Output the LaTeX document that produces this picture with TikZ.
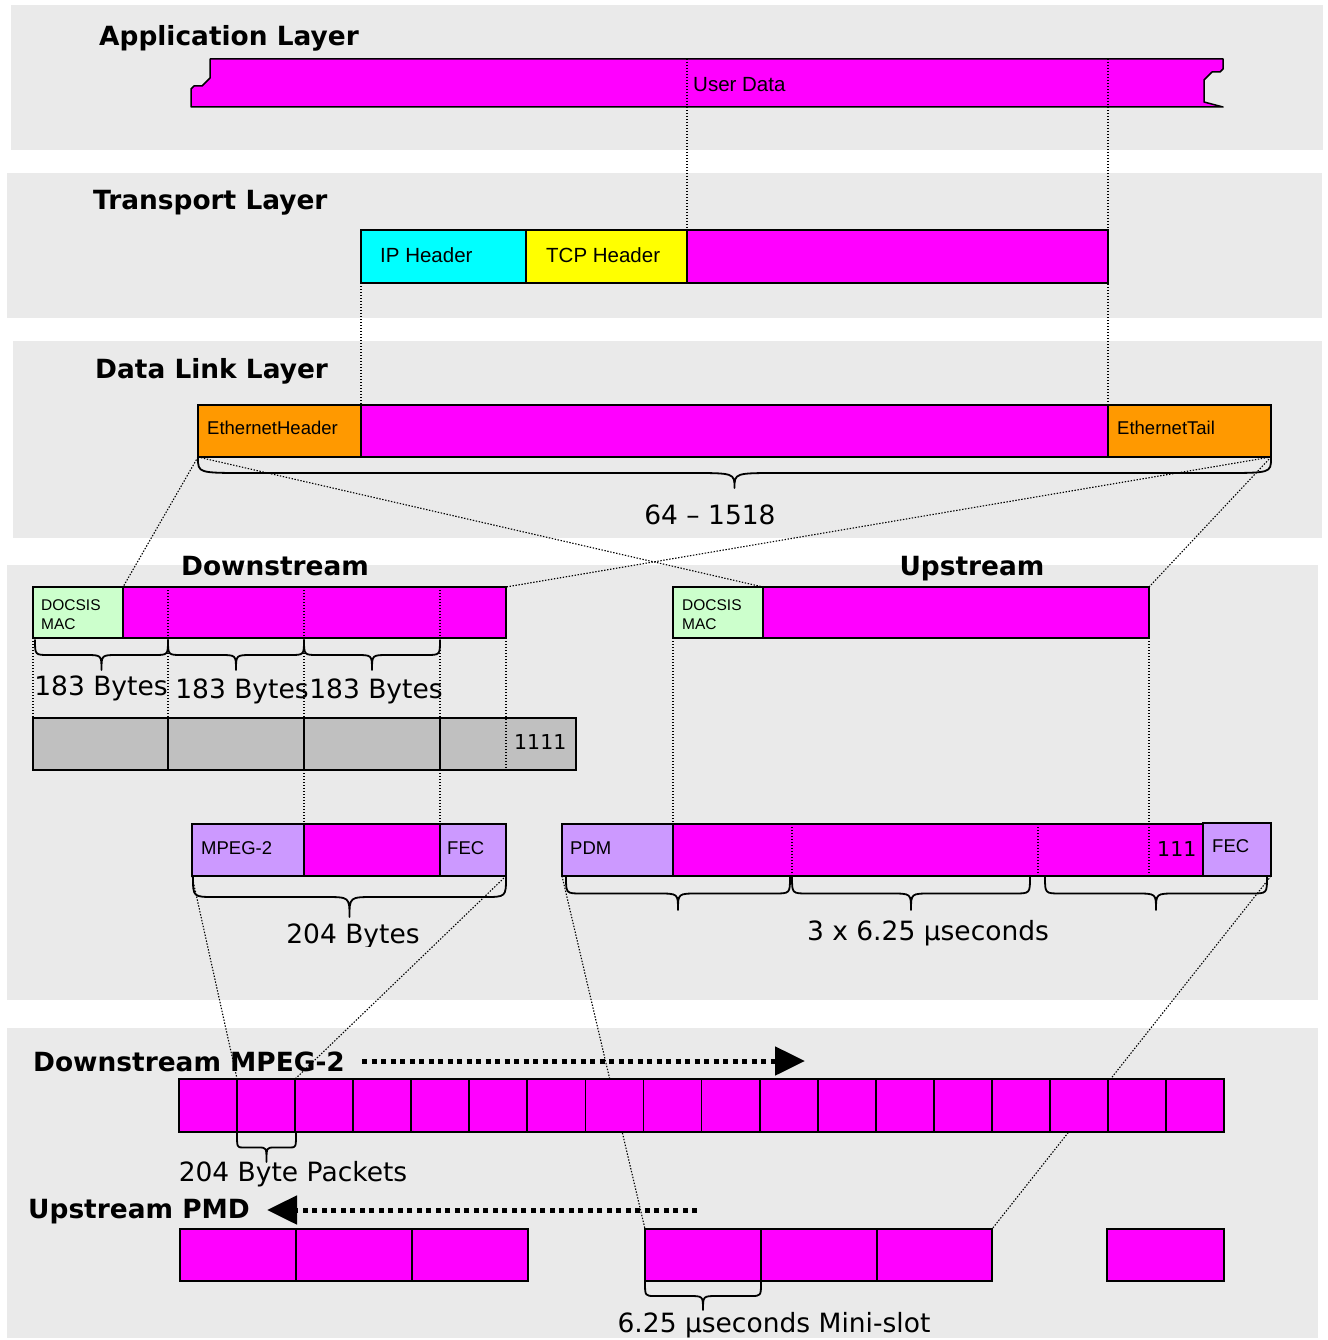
\documentclass[tikz,border=0pt]{standalone}
\usepackage{fontspec}
\setmainfont{DejaVu Sans}
\newfontfamily\arialfont{Liberation Sans}
\usetikzlibrary{fit,arrows.meta,backgrounds}

\definecolor{mag}{HTML}{FF00FF}
\definecolor{panelgray}{HTML}{EAEAEA}
\definecolor{lav}{HTML}{CC99FF}
\definecolor{mint}{HTML}{CCFFCC}
\definecolor{orng}{HTML}{FF9900}
\definecolor{cyanbox}{HTML}{00FFFF}
\definecolor{yel}{HTML}{FFFF00}
\definecolor{greybox}{HTML}{C0C0C0}

% curly brace opening downwards: x1, x2, y, depth, end radius, middle radius
\newcommand{\mybrace}[6]{%
  \draw[bracestyle] (#1,#3) .. controls (#1,{#3+#4/2}) .. ({#1+#5},{#3+#4/2})
    -- ({(#1+#2)/2-#6},{#3+#4/2}) .. controls ({(#1+#2)/2},{#3+#4/2}) .. ({(#1+#2)/2},{#3+#4})
    .. controls ({(#1+#2)/2},{#3+#4/2}) .. ({(#1+#2)/2+#6},{#3+#4/2})
    -- ({#2-#5},{#3+#4/2}) .. controls (#2,{#3+#4/2}) .. (#2,#3);}

\begin{document}
\begin{tikzpicture}[x=1pt,y=-1pt,
  cell/.style={draw=black,line width=1.8pt,inner sep=0pt,outer sep=0pt},
  magcell/.style={cell,fill=mag},
  conn/.style={draw=black,line width=1.1pt,dash pattern=on 1.4pt off 1.6pt},
  fatdots/.style={line width=5pt,dash pattern=on 5pt off 4.5pt},
  title/.style={font=\fontsize{26.4}{30}\selectfont\bfseries,inner sep=0pt,anchor=base west},
  biglbl/.style={font=\fontsize{26.5}{30}\selectfont,inner sep=0pt,anchor=base},
  boxlbl/.style={font=\arialfont\fontsize{20.5}{24}\selectfont,inner sep=0pt,anchor=base west},
  smallbox/.style={font=\arialfont\fontsize{18.5}{22}\selectfont,inner sep=0pt,anchor=base west},
  maclbl/.style={font=\arialfont\fontsize{15.5}{19}\selectfont,inner sep=0pt,anchor=base west},
  numlbl/.style={font=\fontsize{20.5}{24}\selectfont,inner sep=0pt,anchor=base west},
  bracestyle/.style={line width=1.8pt,line cap=round,line join=round},
  panel/.style={fill=panelgray}]

\useasboundingbox (0,0) rectangle (1327,1340);

% page and layer panels, underneath everything
\begin{pgfonlayer}{background}
  \fill[white] (0,0) rectangle (1327,1340);
  \fill[panel] (11,5) rectangle (1323,150);
  \fill[panel] (7,173) rectangle (1322,318);
  \fill[panel] (13,341) rectangle (1322,538);
  \fill[panel] (7,565) rectangle (1318,1000);
  \fill[panel] (7,1028) rectangle (1318,1338);
\end{pgfonlayer}

% ---------- Application layer ----------
\node[title] (tApp) at (99,46) {Application Layer};
\fill[mag] (210,59) -- (1223,59) -- (1223,69) -- (1220,72) -- (1212,72) -- (1204,80)
  -- (1204,102) -- (1223,107) -- (191,107) -- (191,89) -- (194,86) -- (202,86)
  -- (210,78) -- cycle;
\draw[line width=1.5pt,line join=round] (210,78) -- (210,59) -- (1223,59) -- (1223,69) -- (1220,72) -- (1212,72) -- (1204,80)
  -- (1204,102) -- (1223,107) -- (191,107) -- (191,89) -- (194,86) -- (202,86)
  -- cycle;
\node[inner sep=0pt,outer sep=0pt,fit={(191,59) (1223,107)}] (ud) {};
\node[boxlbl] (udText) at (693,92) {User Data};

% ---------- Transport layer ----------
\node[title] (tTrans) at (93,210) {Transport Layer};
\node[cell,fill=cyanbox,fit={(361,230) (526,283)}] (ip) {};
\node[cell,fill=yel,fit={(526,230) (687,283)}] (tcp) {};
\node[magcell,fit={(687,230) (1108,283)}] (tpay) {};
\node[boxlbl] at (380,262) {IP Header};
\node[boxlbl] at (546,262) {TCP Header};

% ---------- Data link layer ----------
\node[title] (tLink) at (95,378) {Data Link Layer};
\node[cell,fill=orng,fit={(198,405) (361,457)}] (ethh) {};
\node[magcell,fit={(361,405) (1108,457)}] (lpay) {};
\node[cell,fill=orng,fit={(1108,405) (1271,457)}] (etht) {};
\node[smallbox] at (207,434) {EthernetHeader};
\node[smallbox] at (1117,434) {EthernetTail};
\mybrace{198}{1271}{458}{30}{50}{45}
\node[biglbl] (frameLen) at (710,524) {64 – 1518};

% ---------- Downstream ----------
\node[title,anchor=base] (tDown) at (275,575) {Downstream};
\node[cell,fill=mint,fit={(33,587) (123,638)}] (dmac) {};
\node[magcell,fit={(123,587) (506,638)}] (dpay) {};
\node[maclbl] at (41,610) {DOCSIS};
\node[maclbl] at (41,629) {MAC};

\node[cell,fill=greybox,fit={(33,718) (168,770)}] (g1) {};
\node[cell,fill=greybox,fit={(168,718) (304,770)}] (g2) {};
\node[cell,fill=greybox,fit={(304,718) (440,770)}] (g3) {};
\node[cell,fill=greybox,fit={(440,718) (576,770)}] (g4) {};
\node[numlbl] at (514,749.5) {1111};

\mybrace{35}{168}{640}{30}{14}{16}
\mybrace{168}{304}{640}{30}{14}{16}
\mybrace{304}{440}{640}{30}{14}{16}
\node[biglbl] at (101,695) {183 Bytes};
\node[biglbl] at (242,698) {183 Bytes};
\node[biglbl] at (376,698) {183 Bytes};

\node[cell,fill=lav,fit={(192,824) (304,876)}] (mp) {};
\node[magcell,fit={(304,824) (440,876)}] (mpay) {};
\node[cell,fill=lav,fit={(440,824) (506,876)}] (mfec) {};
\node[smallbox] at (201,854) {MPEG-2};
\node[smallbox] at (447,854) {FEC};
\mybrace{193}{506}{877}{40}{22}{25}
\begin{scope}
  \clip (150,900) rectangle (600,946);
  \node[biglbl] at (353,943) {204 Bytes};
\end{scope}

% ---------- Upstream ----------
\node[title,anchor=base] (tUp) at (972,575) {Upstream};
\node[cell,fill=mint,fit={(673,587) (763,638)}] (umac) {};
\node[magcell,fit={(763,587) (1149,638)}] (upay) {};
\node[maclbl] at (682,610) {DOCSIS};
\node[maclbl] at (682,629) {MAC};

\node[cell,fill=lav,fit={(562,824) (673,876)}] (pdm) {};
\node[magcell,fit={(673,824) (1203,876)}] (upay2) {};
\node[cell,fill=lav,fit={(1203,823) (1271,876)}] (ufec) {};
\node[smallbox] at (570,854) {PDM};
\node[smallbox] at (1212,852) {FEC};
\node[numlbl] at (1157,856) {111};
\coordinate (slotA) at (792,824);
\coordinate (slotB) at (1038,824);

\mybrace{566}{790}{877}{33}{16}{20}
\mybrace{792}{1030}{877}{33}{16}{20}
\mybrace{1045}{1267}{877}{33}{16}{20}
\node[biglbl] at (928,940) {3 x 6.25 µseconds};

% ---------- Physical layer streams ----------
\node[title] (tDsMpeg) at (33,1071) {Downstream MPEG-2};
\coordinate (dsArrS) at (362,1061);
\coordinate (dsArrE) at (805,1061);
\draw[fatdots,-{Triangle[length=30pt,width=28pt]}] (dsArrS) -- (dsArrE);

\foreach \i in {1,...,18}{
  \node[magcell,fit={({179+(\i-1)*58.06},1079) ({179+\i*58.06},1132)}] (c\i) {};
}
\mybrace{237}{296}{1133}{29}{6}{8}
\node[biglbl] at (293,1181) {204 Byte Packets};

\node[title] (tUsPmd) at (28,1218) {Upstream PMD};
\coordinate (usArrS) at (697,1210);
\coordinate (usArrE) at (267,1210);
\draw[fatdots,-{Triangle[length=30pt,width=28pt]}] (usArrS) -- (usArrE);

\node[magcell,fit={(180,1229) (296,1281)}] (a1) {};
\node[magcell,fit={(296,1229) (412,1281)}] (a2) {};
\node[magcell,fit={(412,1229) (528,1281)}] (a3) {};
\node[magcell,fit={(645,1229) (761,1281)}] (b1) {};
\node[magcell,fit={(761,1229) (877,1281)}] (b2) {};
\node[magcell,fit={(877,1229) (992,1281)}] (b3) {};
\node[magcell,fit={(1107,1229) (1224,1281)}] (cc) {};
\mybrace{645}{761}{1282}{28}{10}{14}
\node[biglbl] at (774,1332) {6.25 µseconds Mini-slot};

% ---------- dotted connectors hidden behind the boxes ----------
\begin{pgfonlayer}{background}
  \draw[conn] (ethh.south west) -- (dmac.north east);
  \draw[conn] (ethh.south west) -- (umac.north east);
  \draw[conn] (etht.south east) -- (dpay.north east);
  \draw[conn] (etht.south east) -- (upay.north east);
  \draw[conn] (mp.south west) -- (c2.north west);
  \draw[conn] (mfec.south east) -- (c2.north east);
  \draw[conn] (pdm.south west) -- (b1.north west);
  \draw[conn] (ufec.south east) -- (b3.north east);
\end{pgfonlayer}

% ---------- dotted connectors drawn over the boxes ----------
\draw[conn] (tcp.north east |- ud.north) -- (tcp.north east);
\draw[conn] (tpay.north east |- ud.north) -- (etht.north west);
\draw[conn] (ip.south west) -- (lpay.north west);

\draw[conn] (dmac.south west) -- (g1.north west);
\draw[conn] (g2.north west |- dpay.north) -- (g2.north west);
\draw[conn] (g3.north west |- dpay.north) -- (mpay.north west);
\draw[conn] (g4.north west |- dpay.north) -- (mfec.north west);
\draw[conn] (dpay.south east) -- (dpay.south east |- g4.south);

\draw[conn] (umac.south west) -- (pdm.north east);
\draw[conn] (upay.south east) -- (upay.south east |- upay2.south);
\draw[conn] (slotA) -- (slotA |- upay2.south);
\draw[conn] (slotB) -- (slotB |- upay2.south);

\end{tikzpicture}
\end{document}
